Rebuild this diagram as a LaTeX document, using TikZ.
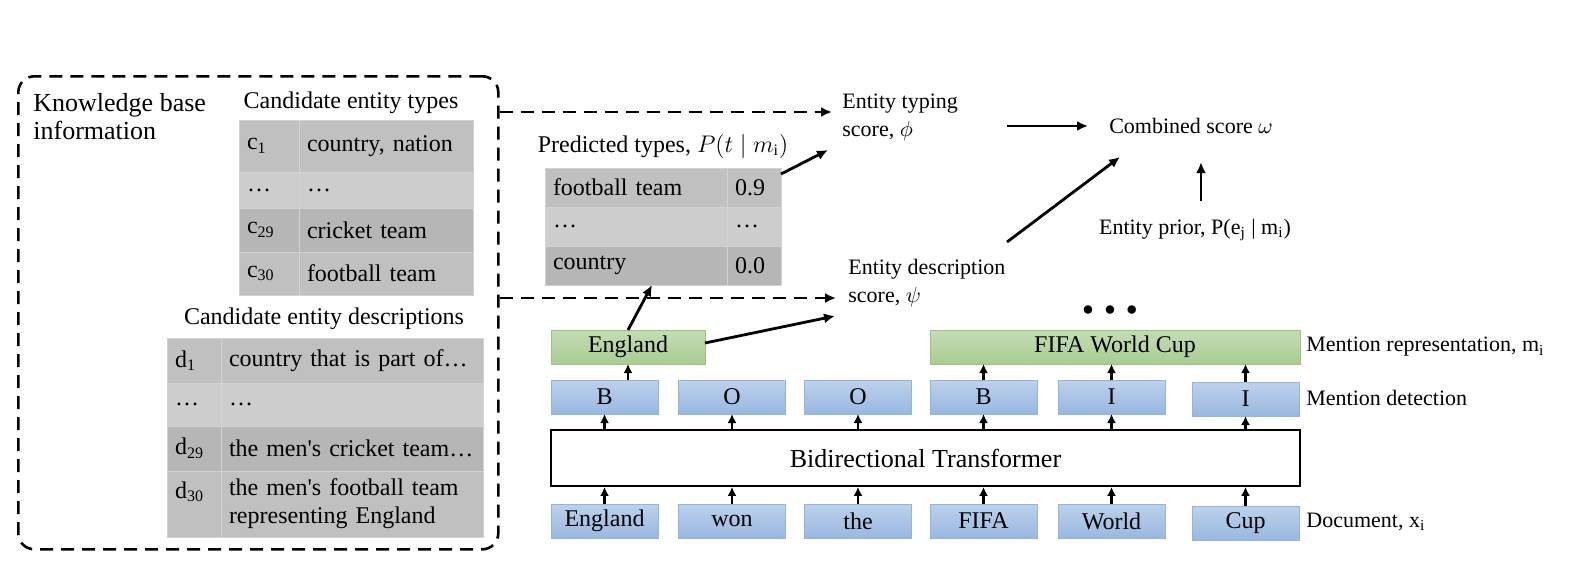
\documentclass[tikz,border=0pt]{standalone}
\usepackage{fontspec}
\setmainfont{Liberation Serif}
\usetikzlibrary{arrows.meta, positioning, calc}

\definecolor{rowdark}{HTML}{B6B6B6}
\definecolor{rowmid}{HTML}{C0C0C0}
\definecolor{rowlight}{HTML}{CDCDCD}
\definecolor{cellline}{HTML}{D2D2D2}
\definecolor{greentop}{HTML}{C4DDB5}
\definecolor{greenbot}{HTML}{A9CC92}
\definecolor{greenline}{HTML}{9BC27F}
\definecolor{bluetop}{HTML}{BDD1EC}
\definecolor{bluebot}{HTML}{99B8E0}
\definecolor{blueline}{HTML}{93B4DD}

\tikzset{
    cell/.style = {draw=cellline, line width=0.5pt, inner xsep=4pt,
        inner ysep=0pt, outer sep=0pt, align=left,
        font=\fontsize{12}{14}\selectfont},
    mention/.style = {draw=greenline, top color=greentop, bottom color=greenbot,
        minimum height=17pt, inner sep=0pt, outer sep=0pt,
        font=\fontsize{12}{14}\selectfont},
    token/.style = {draw=blueline, top color=bluetop, bottom color=bluebot,
        minimum width=53.5pt, minimum height=17pt, inner sep=0pt, outer sep=0pt,
        font=\fontsize{12}{14}\selectfont},
    txt/.style = {inner sep=0pt, align=left, font=\fontsize{11}{14}\selectfont},
    arr/.style = {-{Latex[length=5.5pt,width=5pt]}, line width=1.4pt},
    uparr/.style = {-{Latex[length=4.5pt,width=4.5pt]}, line width=1.4pt},
    dasharr/.style = {arr, dash pattern=on 6.5pt off 4pt}
}

\begin{document}
\begin{tikzpicture}[x=0.5pt, y=-0.5pt]
    \useasboundingbox (0,0) rectangle (1570,578);

    % knowledge base
    \node (kb) [draw, dash pattern=on 6.5pt off 4pt, line width=1.3pt,
        rounded corners=8pt, minimum width=240pt, minimum height=236.5pt,
        anchor=north west] at (17,75) {};
    \node (kbtxt) [txt, font=\fontsize{13}{14}\selectfont, anchor=west]
        at (33,117) {Knowledge base\\information};

    % candidate entity types
    \node (typetitle) [txt, font=\fontsize{12}{14}\selectfont] at (351,103)
        {Candidate entity types};
    \node (ca1) [cell, fill=rowmid, text width=22pt, minimum height=26pt,
        anchor=north west] at (239,120) {c\textsubscript{1}};
    \node (cb1) [cell, fill=rowmid, text width=79pt, minimum height=26pt,
        right=0pt of ca1] {country, nation};
    \node (ca2) [cell, fill=rowlight, text width=22pt, minimum height=18pt,
        below=0pt of ca1] {…};
    \node (cb2) [cell, fill=rowlight, text width=79pt, minimum height=18pt,
        right=0pt of ca2] {…};
    \node (ca3) [cell, fill=rowdark, text width=22pt, minimum height=22pt,
        below=0pt of ca2] {c\textsubscript{29}};
    \node (cb3) [cell, fill=rowdark, text width=79pt, minimum height=22pt,
        right=0pt of ca3] {cricket team};
    \node (ca4) [cell, fill=rowmid, text width=22pt, minimum height=21.5pt,
        below=0pt of ca3] {c\textsubscript{30}};
    \node (cb4) [cell, fill=rowmid, text width=79pt, minimum height=21.5pt,
        right=0pt of ca4] {football team};

    % candidate entity descriptions
    \node (desctitle) [txt, font=\fontsize{12}{14}\selectfont] at (324,319)
        {Candidate entity descriptions};
    \node (da1) [cell, fill=rowmid, text width=19pt, minimum height=22.5pt,
        anchor=north west] at (167,338) {d\textsubscript{1}};
    \node (db1) [cell, fill=rowmid, text width=123pt, minimum height=22.5pt,
        right=0pt of da1] {country that is part of…};
    \node (da2) [cell, fill=rowlight, text width=19pt, minimum height=21.5pt,
        below=0pt of da1] {…};
    \node (db2) [cell, fill=rowlight, text width=123pt, minimum height=21.5pt,
        right=0pt of da2] {…};
    \node (da3) [cell, fill=rowdark, text width=19pt, minimum height=22.5pt,
        below=0pt of da2] {d\textsubscript{29}};
    \node (db3) [cell, fill=rowdark, text width=123pt, minimum height=22.5pt,
        right=0pt of da3] {the men\textquotesingle s cricket team…};
    \node (da4) [cell, fill=rowmid, text width=19pt, minimum height=33pt,
        below=0pt of da3] {d\textsubscript{30}\\\mbox{}};
    \node (db4) [cell, fill=rowmid, text width=123pt, minimum height=33pt,
        right=0pt of da4] {the men\textquotesingle s football team\\representing England};

    % predicted types
    \node (predtitle) [txt, font=\fontsize{12}{14}\selectfont] at (663,146)
        {Predicted types, $P(t\mid m_{\mathrm{i}})$};
    \node (pa1) [cell, fill=rowmid, text width=83pt, minimum height=19.5pt,
        anchor=north west] at (545,168) {football team};
    \node (pb1) [cell, fill=rowmid, text width=19pt, minimum height=19.5pt,
        right=0pt of pa1] {0.9};
    \node (pa2) [cell, fill=rowlight, text width=83pt, minimum height=19.5pt,
        below=0pt of pa1] {…};
    \node (pb2) [cell, fill=rowlight, text width=19pt, minimum height=19.5pt,
        right=0pt of pa2] {…};
    \node (pa3) [cell, fill=rowdark, text width=83pt, minimum height=19.5pt,
        below=0pt of pa2] {country};
    \node (pb3) [cell, fill=rowdark, text width=19pt, minimum height=19.5pt,
        right=0pt of pa3] {0.0};

    % scores
    \node (typing) [txt, anchor=west] at (842,117) {Entity typing\\score, $\phi$};
    \node (descsc) [txt, anchor=west] at (848,283) {Entity description\\score, $\psi$};
    \node (comb) [txt] at (1191,126) {Combined score $\omega$};
    \node (prior) [txt] at (1195,230)
        {Entity prior, P(e\textsubscript{j} | m\textsubscript{i})};
    \node (dots) [txt] at (1110,311) {$\bullet\;\bullet\;\bullet$};

    % mentions, tags, transformer, tokens
    \node (eng) [mention, minimum width=77pt] at (628,347) {England};
    \node (fifa) [mention, minimum width=185pt] at (1115,347) {FIFA World Cup};

    \node (tg1) [token] at (604.5,397) {B};
    \node (tg2) [token] at (732,397) {O};
    \node (tg3) [token] at (858,397) {O};
    \node (tg4) [token] at (983.5,397) {B};
    \node (tg5) [token] at (1111.5,397) {I};
    \node (tg6) [token] at (1245.5,399) {I};

    \node (bt) [draw, line width=0.9pt, minimum width=374.5pt, minimum height=28pt,
        inner sep=0pt, font=\fontsize{13}{15}\selectfont] at (925.5,458)
        {Bidirectional Transformer};

    \node (tk1) [token] at (604.5,521) {England};
    \node (tk2) [token] at (732,521) {won};
    \node (tk3) [token] at (858,521) {the};
    \node (tk4) [token] at (983.5,521) {FIFA};
    \node (tk5) [token] at (1111.5,521) {World};
    \node (tk6) [token] at (1245.5,523) {Cup};

    \node (mrep) [txt, anchor=west] at (1306,347) {Mention representation, m\textsubscript{i}};
    \node (mdet) [txt, anchor=west] at (1306,398) {Mention detection};
    \node (doc) [txt, anchor=west] at (1306,522) {Document, x\textsubscript{i}};

    % arrow ends
    \coordinate (typein) at (832,112);
    \coordinate (typein2) at (828,150);
    \coordinate (descin) at (836,298);
    \coordinate (descin2) at (835,316);
    \coordinate (typeout) at (1007,126);
    \coordinate (combin) at (1088,126);
    \coordinate (descout) at (1007,242);
    \coordinate (combin2) at (1120,157);

    \draw [dasharr] (kb.east |- typein) -- (typein);
    \draw [dasharr] (kb.east |- descin) -- (descin);

    \draw [arr] ($(pb1.north east)+(0,-3pt)$) -- (typein2);
    \draw [arr] (eng.north) -- ($(pa3.south)+(8pt,0)$);
    \draw [arr] ($(eng.east)+(0,2pt)$) -- (descin2);
    \draw [arr] (typeout) -- (combin);
    \draw [arr] (descout) -- (combin2);
    \draw [arr, shorten <=9pt, shorten >=14pt] ($(prior.north)+(3pt,0)$)
        -- ($(prior.north |- comb.south)+(3pt,0)$);

    \draw [uparr] (tk1.north) -- (tk1.north |- bt.south);
    \draw [uparr] (tk2.north) -- (tk2.north |- bt.south);
    \draw [uparr] (tk3.north) -- (tk3.north |- bt.south);
    \draw [uparr] (tk4.north) -- (tk4.north |- bt.south);
    \draw [uparr] (tk5.north) -- (tk5.north |- bt.south);
    \draw [uparr] (tk6.north) -- (tk6.north |- bt.south);

    \draw [uparr] (tg1.south |- bt.north) -- (tg1.south);
    \draw [uparr] (tg2.south |- bt.north) -- (tg2.south);
    \draw [uparr] (tg3.south |- bt.north) -- (tg3.south);
    \draw [uparr] (tg4.south |- bt.north) -- (tg4.south);
    \draw [uparr] (tg5.south |- bt.north) -- (tg5.south);
    \draw [uparr] (tg6.south |- bt.north) -- (tg6.south);

    \draw [uparr] (eng.south |- tg1.north) -- (eng.south);
    \draw [uparr] (tg4.north) -- (tg4.north |- fifa.south);
    \draw [uparr] (tg5.north) -- (tg5.north |- fifa.south);
    \draw [uparr] (tg6.north) -- (tg6.north |- fifa.south);
\end{tikzpicture}
\end{document}
